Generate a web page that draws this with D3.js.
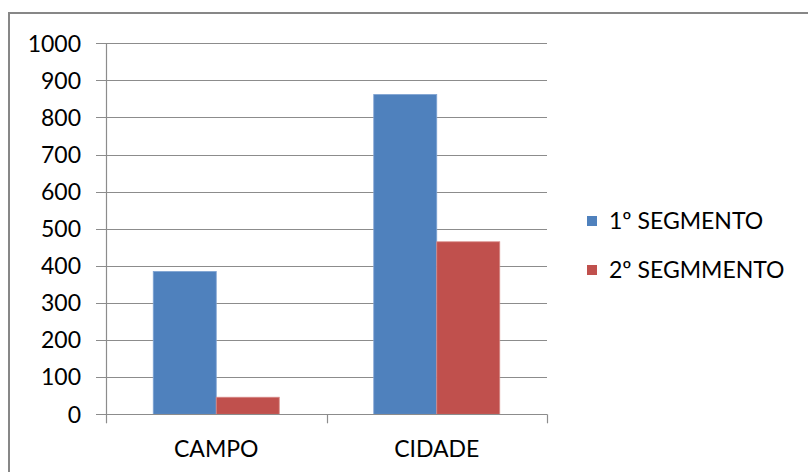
<!DOCTYPE html>
<html><head><meta charset="utf-8">
<script src="https://cdn.jsdelivr.net/npm/d3@7"></script>
<style>
html,body{margin:0;padding:0;background:#fff;}
svg{display:block;}
text{font-family:Lato,"Open Sans",sans-serif;fill:#000;}
</style></head>
<body>
<svg id="chart" width="808" height="472"></svg>
<script>
const categories = ["CAMPO", "CIDADE"];
const seriesNames = ["1º SEGMENTO", "2º SEGMMENTO"];
const seg1 = [385, 862];
const seg2 = [46, 465];
const yTicks = [0, 100, 200, 300, 400, 500, 600, 700, 800, 900, 1000];
const colors = ["#4f81bd", "#c0504d"];

const svg = d3.select("#chart");
// outer border
svg.append("rect").attr("x", 9).attr("y", 13).attr("width", 810).attr("height", 480)
  .attr("fill", "#fff").attr("stroke", "#878787").attr("stroke-width", 2);

const pLeft = 106, pRight = 547, pTop = 43.3, pBottom = 414.3;
const fs = 23;
const y = d3.scaleLinear().domain([0, 1000]).range([pBottom, pTop]);
const x0 = d3.scaleBand().domain(categories).range([pLeft, pRight]).padding(0);
const x1 = d3.scaleBand().domain(seriesNames).range([0, x0.bandwidth()]).paddingInner(0).paddingOuter(0.75);

// gridlines
const grid = svg.append("g");
grid.selectAll("line").data(yTicks).join("line")
  .attr("x1", pLeft - 10).attr("x2", pRight)
  .attr("y1", d => Math.round(y(d)) + 0.5).attr("y2", d => Math.round(y(d)) + 0.5)
  .attr("stroke", "#8c8c8c").attr("stroke-width", 1.2);

// y labels
svg.append("g").selectAll("text").data(yTicks).join("text")
  .attr("x", 81).attr("y", d => y(d)).attr("dy", "0.36em")
  .attr("text-anchor", "end").attr("font-size", fs).text(d => d);

// bars
const data = categories.map((c, i) => ({cat: c, vals: [seg1[i], seg2[i]]}));
const g = svg.append("g");
data.forEach(d => {
  d.vals.forEach((v, j) => {
    g.append("rect")
      .attr("x", x0(d.cat) + x1(seriesNames[j]))
      .attr("y", y(v))
      .attr("width", x1.bandwidth())
      .attr("height", y(0) - y(v))
      .attr("fill", colors[j])
      .attr("stroke", j === 0 ? "#7fa3d3" : "#d88a88").attr("stroke-width", 0.8);
  });
});

// y axis line
svg.append("line").attr("x1", pLeft + 0.5).attr("x2", pLeft + 0.5).attr("y1", pTop).attr("y2", pBottom + 1)
  .attr("stroke", "#8c8c8c").attr("stroke-width", 1.2);
// x axis line
svg.append("line").attr("x1", pLeft).attr("x2", pRight).attr("y1", Math.round(pBottom) + 0.5).attr("y2", Math.round(pBottom) + 0.5)
  .attr("stroke", "#8c8c8c").attr("stroke-width", 1.2);
// x ticks at category boundaries
const bounds = [pLeft, ...categories.map(c => x0(c) + x0.bandwidth())];
svg.append("g").selectAll("line").data(bounds).join("line")
  .attr("x1", d => Math.round(d) + 0.5).attr("x2", d => Math.round(d) + 0.5)
  .attr("y1", pBottom).attr("y2", pBottom + 9)
  .attr("stroke", "#8c8c8c").attr("stroke-width", 1.2);

// x labels
svg.append("g").selectAll("text").data(categories).join("text")
  .attr("x", d => x0(d) + x0.bandwidth() / 2).attr("y", 456.5)
  .attr("text-anchor", "middle").attr("font-size", fs).text(d => d);

// legend
const leg = svg.append("g");
seriesNames.forEach((s, i) => {
  const cy = 221 + i * 49;
  leg.append("rect").attr("x", 587).attr("y", cy - 5).attr("width", 10).attr("height", 10).attr("fill", colors[i]);
  leg.append("text").attr("x", 609).attr("y", cy).attr("dy", "0.36em").attr("font-size", fs).text(s);
});
</script>
</body></html>
